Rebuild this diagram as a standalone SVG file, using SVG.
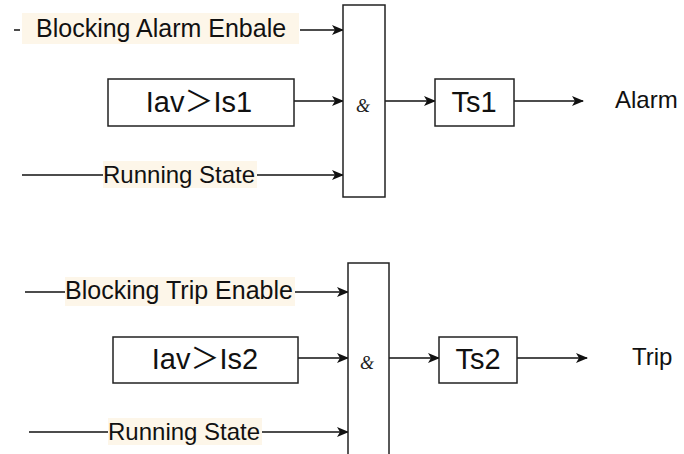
<svg xmlns="http://www.w3.org/2000/svg" width="684" height="454" viewBox="0 0 684 454">
<defs>
<marker id="arr" markerWidth="12" markerHeight="10" refX="11" refY="5" orient="auto" markerUnits="userSpaceOnUse">
<path d="M0,0 L12,5 L0,10 L3,5 Z" fill="#111"/>
</marker>
<style>
.ln{stroke:#111;stroke-width:1.5;fill:none}
.box{stroke:#222;stroke-width:1.5;fill:#fff}
.lbl{font-family:"Liberation Sans",Arial,sans-serif;font-size:24px;fill:#111}
.wide{font-size:25px}
.big{font-family:"Liberation Sans","Noto Sans CJK SC",Arial,sans-serif;font-size:29px;fill:#111;text-anchor:middle}
.amp{font-family:"Liberation Serif",serif;font-style:italic;font-size:18px;fill:#222;text-anchor:middle}
.bg{fill:#fdf6e9}
</style>
</defs>
<rect width="684" height="454" fill="#fff"/>
<g id="connectors">
<line class="ln" x1="14" y1="30" x2="20" y2="30"/>
<line class="ln" x1="300" y1="30" x2="343" y2="30" marker-end="url(#arr)"/>
<line class="ln" x1="294" y1="101" x2="343" y2="101" marker-end="url(#arr)"/>
<line class="ln" x1="22" y1="175" x2="343" y2="175" marker-end="url(#arr)"/>
<line class="ln" x1="385" y1="101" x2="435" y2="101" marker-end="url(#arr)"/>
<line class="ln" x1="514" y1="101" x2="583" y2="101" marker-end="url(#arr)"/>
<line class="ln" x1="25" y1="292" x2="348" y2="292" marker-end="url(#arr)"/>
<line class="ln" x1="298" y1="358" x2="348" y2="358" marker-end="url(#arr)"/>
<line class="ln" x1="29" y1="432" x2="348" y2="432" marker-end="url(#arr)"/>
<line class="ln" x1="389" y1="358" x2="439" y2="358" marker-end="url(#arr)"/>
<line class="ln" x1="517" y1="358" x2="587" y2="358" marker-end="url(#arr)"/>
</g>
<g id="lbl-block-alarm">
<rect class="bg" x="22" y="13" width="277" height="31"/>
<text class="lbl wide" x="36" y="37">Blocking Alarm Enbale</text>
</g>
<g id="cmp1">
<rect class="box" x="108" y="79" width="186" height="47"/>
<text class="big" x="199" y="112">Iav＞Is1</text>
</g>
<g id="lbl-run1">
<rect class="bg" x="103" y="161" width="154" height="27"/>
<text class="lbl" x="103" y="183">Running State</text>
</g>
<g id="and1">
<rect class="box" x="343" y="5" width="42" height="192"/>
<text class="amp" x="363" y="112">&amp;</text>
</g>
<g id="ts1">
<rect class="box" x="435" y="79" width="79" height="47"/>
<text class="big" x="474" y="112">Ts1</text>
</g>
<g id="out-alarm">
<text class="lbl" x="615" y="108">Alarm</text>
</g>
<g id="lbl-block-trip">
<rect class="bg" x="65" y="277" width="230" height="29"/>
<text class="lbl wide" x="65" y="299">Blocking Trip Enable</text>
</g>
<g id="cmp2">
<rect class="box" x="113" y="337" width="185" height="46"/>
<text class="big" x="205" y="369">Iav＞Is2</text>
</g>
<g id="lbl-run2">
<rect class="bg" x="108" y="418" width="154" height="27"/>
<text class="lbl" x="108" y="440">Running State</text>
</g>
<g id="and2">
<rect class="box" x="348" y="263" width="41" height="200"/>
<text class="amp" x="367" y="369">&amp;</text>
</g>
<g id="ts2">
<rect class="box" x="439" y="337" width="78" height="46"/>
<text class="big" x="478" y="369">Ts2</text>
</g>
<g id="out-trip">
<text class="lbl" x="632" y="365">Trip</text>
</g>
</svg>
